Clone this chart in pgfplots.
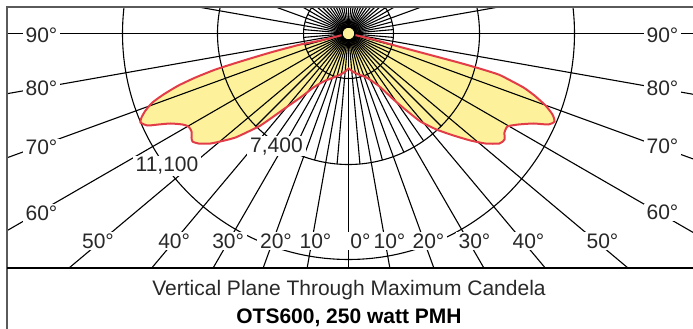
\documentclass[border=0pt]{standalone}
\usepackage{pgfplots}
\pgfplotsset{compat=1.18}
\usepackage{pgfplotstable}
\usepackage{fontspec}
\setmainfont{Liberation Sans}
\definecolor{lobefill}{RGB}{253,242,155}
\definecolor{lobeline}{RGB}{226,60,72}
\definecolor{framegray}{RGB}{90,90,90}
\definecolor{txt}{RGB}{40,40,40}
\tikzset{
  gridline/.style={black, line width=1.1bp},
  lab/.style={fill=white, inner xsep=3bp, inner ysep=1.5bp, text=txt,
    font=\fontsize{21bp}{24bp}\selectfont},
}

% candela outline, in diagram units (centre of lamp = 0,0)
\pgfplotstableread{
x y
0 0
-28 -7
-48 -11
-78 -19
-108 -28
-133 -36
-153 -44
-170 -52
-185 -61
-196 -69
-203 -77
-207 -84
-208 -89
-201 -92
-190 -91
-178 -90
-166 -91
-160 -93
-157 -98
-157 -104
-156 -108
-150 -110
-138 -110
-124 -107
-113 -104
-100 -98
-88 -92
-75 -83
-61 -73
-48 -64
-35 -54
-25 -48
-15 -44
-8 -41
-3 -38
0 -35
4 -38
10 -41
18 -44
31 -53
45 -66
58 -77
72 -88
88 -96
105 -102
122 -107
137 -110
151 -110
156 -106
156 -99
159 -93
170 -91
185 -90
200 -91
206 -88
204 -81
197 -72
186 -62
175 -54
162 -47
150 -41
131 -35
110 -29
80 -21
50 -13
25 -6
0 0
}\lobe

\begin{document}
\begin{tikzpicture}
\useasboundingbox (0,0) rectangle (693bp,329bp);
\begin{axis}[
  at={(7.5bp,60.5bp)}, anchor=south west,
  x=1bp, y=1bp,
  xmin=-341, xmax=345, ymin=-235, ymax=26,
  hide axis, clip=true,
]
\addplot[fill=lobefill, draw=none, smooth, tension=0.35, no markers] table {\lobe} -- cycle;

% radial lines every 10 degrees
\draw[gridline] (axis cs:0,0) -- (axis cs:0,-600);
\draw[gridline] (axis cs:0,0) -- (axis cs:0,600);
\pgfplotsinvokeforeach{10,20,...,170}{
  \draw[gridline] (axis cs:0,0) -- (axis cs:{-600*sin(#1)},{-600*cos(#1)});
  \draw[gridline] (axis cs:0,0) -- (axis cs:{600*sin(#1)},{-600*cos(#1)});
}
% intermediate 5 degree lines
\pgfplotsinvokeforeach{5,15,25,35,45}{
  \draw[gridline] (axis cs:0,0) -- (axis cs:{-131*sin(#1)},{-131*cos(#1)});
  \draw[gridline] (axis cs:0,0) -- (axis cs:{131*sin(#1)},{-131*cos(#1)});
}
\pgfplotsinvokeforeach{55,65,...,175}{
  \draw[gridline] (axis cs:0,0) -- (axis cs:{-45*sin(#1)},{-45*cos(#1)});
  \draw[gridline] (axis cs:0,0) -- (axis cs:{45*sin(#1)},{-45*cos(#1)});
}
% candela circles
\draw[gridline] (axis cs:0,0) circle[radius=45];
\draw[gridline] (axis cs:0,0) circle[radius=131];
\draw[gridline] (axis cs:0,0) circle[radius=226];

\addplot[draw=lobeline, line width=2bp, smooth, tension=0.35, no markers] table {\lobe} -- cycle;

% angle labels
\node[lab] at (axis cs:-307,-2) {90°};
\node[lab] at (axis cs:-307,-55) {80°};
\node[lab] at (axis cs:-307,-114) {70°};
\node[lab] at (axis cs:-307,-179.5) {60°};
\node[lab] at (axis cs:314,-2) {90°};
\node[lab] at (axis cs:314,-55) {80°};
\node[lab] at (axis cs:314,-113) {70°};
\node[lab] at (axis cs:314,-179) {60°};
\node[lab] at (axis cs:-250.5,-207.3) {50°};
\node[lab] at (axis cs:-174.3,-207.3) {40°};
\node[lab] at (axis cs:-120.3,-207.3) {30°};
\node[lab] at (axis cs:-72.5,-207.3) {20°};
\node[lab] at (axis cs:-33,-207.3) {10°};
\node[lab] at (axis cs:12,-207.3) {0°};
\node[lab] at (axis cs:41,-207.3) {10°};
\node[lab] at (axis cs:80,-207.3) {20°};
\node[lab] at (axis cs:126,-207.3) {30°};
\node[lab] at (axis cs:180,-207.3) {40°};
\node[lab] at (axis cs:254,-207.3) {50°};
% candela labels
\node[lab, anchor=base] at (axis cs:-72,-118.7) {7,400};
\node[lab, anchor=base] at (axis cs:-181.5,-138.5) {11,100};

\draw[fill=lobefill, line width=1.4bp] (axis cs:0,0) circle[radius=6.5];
\end{axis}

% frame
\draw[framegray, line width=2.2bp] (7bp,0) -- (7bp,322bp) -- (693bp,322bp);
\draw[black, line width=1.6bp] (7bp,61bp) -- (693bp,61bp);

% captions
\node[anchor=base, inner sep=0, text=txt, font=\fontsize{21bp}{25bp}\selectfont]
  at (349bp,34bp) {Vertical Plane Through Maximum Candela};
\node[anchor=base, inner sep=0, font=\fontsize{21bp}{25bp}\selectfont\bfseries]
  at (349bp,5.7bp) {OTS600, 250 watt PMH};
\end{tikzpicture}
\end{document}
